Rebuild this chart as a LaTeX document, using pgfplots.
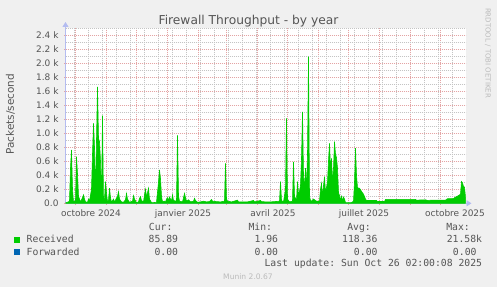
\documentclass[border=0pt]{standalone}
\usepackage{pgfplots}
\pgfplotsset{compat=1.18}
\usepackage{pgfplotstable}
\usepackage{fontspec}
\setmainfont{DejaVu Sans}
\setmonofont{DejaVu Sans Mono}
\usetikzlibrary{arrows.meta}
\definecolor{bgc}{HTML}{F0F0F0}
\definecolor{mgrid}{HTML}{E4A4A4}
\definecolor{ngrid}{HTML}{C4C4C4}
\definecolor{axc}{HTML}{B4BCF0}
\definecolor{recv}{HTML}{00CC00}
\definecolor{fwd}{HTML}{0066B3}
\definecolor{txt}{HTML}{555555}
\definecolor{wm}{HTML}{BBBBBB}
\pgfplotstableread{
day val
0 10
2 15
4 30
5 500
6 760
7 200
8 20
10 40
11 665
12 420
13 100
14 60
15 20
17 80
18 120
19 60
20 20
22 15
23 60
24 30
26 200
27 700
28 1140
29 800
30 100
31 900
32 1660
33 925
34 880
35 600
36 50
37 1250
38 40
39 60
40 310
41 150
42 20
43 40
44 215
45 80
46 15
48 60
49 20
52 100
53 165
54 60
56 20
58 15
60 50
61 140
62 60
64 15
67 30
68 110
69 60
71 10
73 20
74 70
75 95
76 40
78 20
79 120
80 200
81 90
82 150
83 215
84 60
86 10
88 10
91 15
93 300
94 475
95 350
96 100
97 20
99 30
100 15
101 60
102 80
103 40
104 90
105 60
106 30
107 120
108 40
111 30
112 970
113 100
114 30
117 20
119 140
120 80
121 30
123 50
125 20
128 30
129 70
130 40
132 15
135 20
138 30
141 20
144 25
146 55
147 30
150 25
155 20
159 30
160 570
161 60
162 30
166 20
172 45
173 20
178 20
182 20
188 40
189 20
195 40
196 25
200 20
205 20
210 25
214 30
215 310
216 40
218 20
220 200
221 1210
222 60
224 20
227 30
228 590
229 100
231 40
232 310
233 100
235 250
236 640
237 1305
238 400
239 200
240 500
241 200
242 700
243 2090
244 100
245 40
246 30
248 60
249 50
251 30
254 30
255 200
256 285
257 100
258 250
259 380
260 150
262 300
263 600
264 855
265 500
266 640
267 300
268 500
269 880
270 700
271 650
272 500
273 150
274 110
275 40
276 100
277 30
278 90
279 60
280 10
283 10
286 10
288 30
289 300
290 785
291 400
292 220
294 215
296 170
298 130
300 60
301 40
311 40
312 25
319 25
320 55
350 55
351 45
360 50
362 40
366 45
380 45
382 65
388 65
389 80
391 95
393 110
395 130
396 310
397 290
398 240
399 230
400 86
}\recvtable
\begin{document}
\begin{tikzpicture}[x=1bp,y=1bp]
\useasboundingbox (0,0) rectangle (497,287);
\fill[bgc] (0,0) rectangle (497,287);
\begin{axis}[
  at={(65.5bp,83.7bp)}, anchor=south west,
  scale only axis, width=400bp, height=175.3bp,
  xmin=0, xmax=400, ymin=0, ymax=2500,
  axis background/.style={fill=white},
  axis x line*=bottom, axis y line*=left,
  axis line style={axc, line width=0.9bp},
  x axis line style={-{Triangle[width=6bp,length=5bp]}, shorten >=-6bp},
  y axis line style={-{Triangle[width=6bp,length=5bp]}, shorten >=-6bp},
  xtick={10,41,71,102,133,161,192,222,253,283,314,345,375},
  xticklabels={},
  minor xtick={9,23,37,51,65,79,93,107,121,135,149,163,177,191,205,219,233,247,261,275,289,303,317,331,345,359,373,387},
  ytick={0,200,...,2400},
  yticklabels={0.0,0.2 k,0.4 k,0.6 k,0.8 k,1.0 k,1.2 k,1.4 k,1.6 k,1.8 k,2.0 k,2.2 k,2.4 k},
  minor ytick={100,300,...,2500},
  grid=both,
  major grid style={mgrid, dash pattern=on 1bp off 1bp, line width=0.7bp},
  minor grid style={ngrid, dash pattern=on 1bp off 1bp, line width=0.7bp},
  tick align=center,
  major tick length=3bp, minor tick length=0bp,
  major tick style={mgrid, line width=0.7bp},
  yticklabel style={font=\fontsize{9}{9}\selectfont, text=txt, anchor=base east, yshift=-3.3bp, xshift=-2bp},
  clip mode=individual,
]
\addplot[fill=recv, draw=recv, line width=0.6bp] table[x=day, y=val] {\recvtable} \closedcycle;
\end{axis}
% title
\node[anchor=base, font=\fontsize{12.3}{12.3}\selectfont, text=txt] at (248.5,262.7) {Firewall Throughput - by year};
% y label
\node[rotate=90, font=\fontsize{10.5}{10.5}\selectfont, text=txt] at (10.5,172.8) {Packets/second};
% watermark
\node[rotate=-90, font=\fontsize{7}{7}\selectfont, text=wm] at (488,234) {RRDTOOL / TOBI OETIKER};
% x labels
\foreach \xx/\lab in {91/octobre 2024, 183/janvier 2025, 273/avril 2025, 364/juillet 2025, 455/octobre 2025}
  \node[anchor=base, font=\fontsize{9}{9}\selectfont, text=txt, inner sep=0] at (\xx,70.3) {\lab};
% legend
\begin{scope}[every node/.style={inner sep=0, font=\fontsize{9.8}{9.8}\selectfont\ttfamily, text=txt}]
\node[anchor=base east] at (172.7,56.5) {Cur:};
\node[anchor=base east] at (272.3,56.5) {Min:};
\node[anchor=base east] at (371,56.5) {Avg:};
\node[anchor=base east] at (470,56.5) {Max:};
\fill[recv] (14,44) rectangle (20,50);
\node[anchor=base west] at (26.5,44.2) {Received};
\node[anchor=base east] at (178.3,44.2) {85.89};
\node[anchor=base east] at (278.3,44.2) {1.96};
\node[anchor=base east] at (377.7,44.2) {118.36};
\node[anchor=base east] at (482.3,44.2) {21.58k};
\fill[fwd] (14,32) rectangle (20,38);
\node[anchor=base west] at (26.5,31.8) {Forwarded};
\node[anchor=base east] at (178.3,31.8) {0.00};
\node[anchor=base east] at (278.3,31.8) {0.00};
\node[anchor=base east] at (377.7,31.8) {0.00};
\node[anchor=base east] at (476.7,31.8) {0.00};
\node[anchor=base east] at (482.3,20.2) {Last update: Sun Oct 26 02:00:08 2025};
\end{scope}
\node[anchor=base, inner sep=0, font=\fontsize{7.6}{7.6}\selectfont, text=wm] at (248,8) {Munin 2.0.67};
\end{tikzpicture}
\end{document}
